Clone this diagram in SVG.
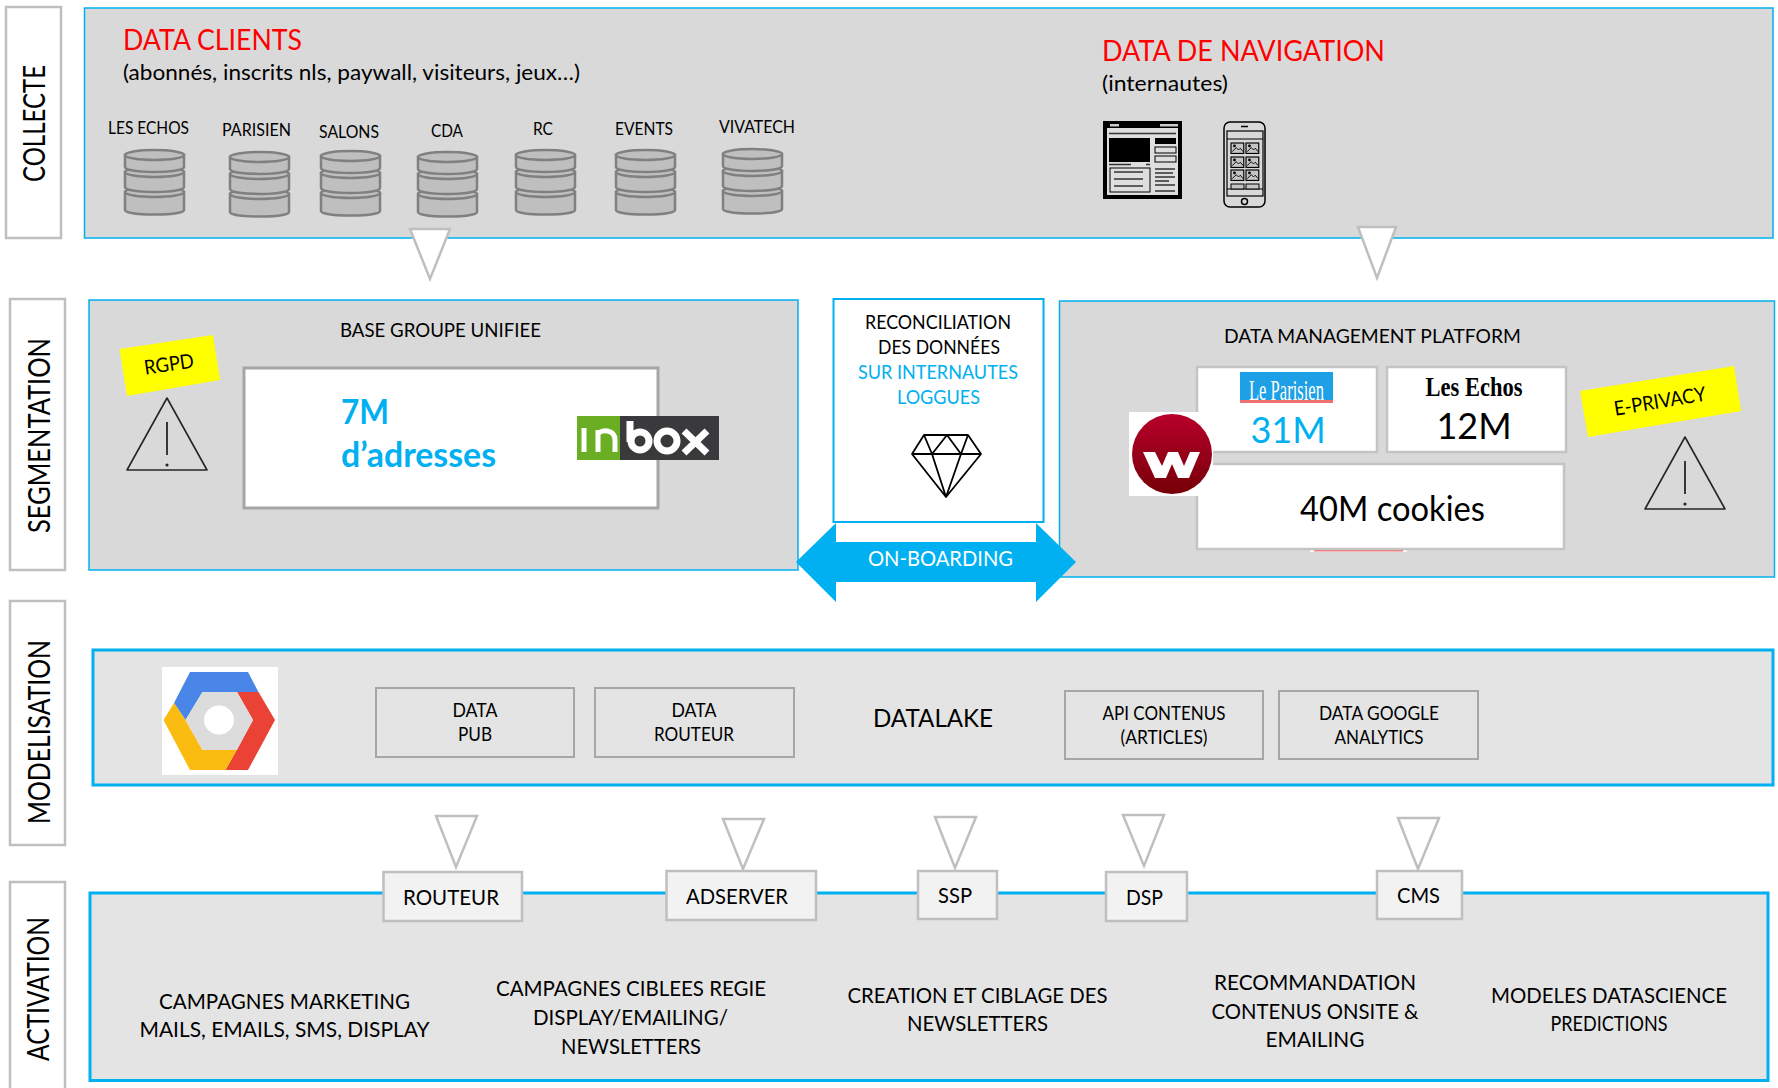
<svg xmlns="http://www.w3.org/2000/svg" width="1778" height="1088" viewBox="0 0 1778 1088">
<style>
text{font-family:Lato,"Liberation Sans",sans-serif;fill:#000}
.m{text-anchor:middle}
.side{fill:#fff;stroke:#bfbfbf;stroke-width:2.5}
.sl{font-size:30px}
.band{fill:#d9d9d9;stroke:#00b0f0;stroke-width:1.5}
.band2{fill:#e4e4e4;stroke:#00b0f0;stroke-width:3}
.tri{fill:#fff;stroke:#bfbfbf;stroke-width:2.5}
.db{font-size:17px}
.red{fill:#f00}
.blue{fill:#00b0f0}
.wb{fill:#fff;stroke:#c4c4c4;stroke-width:2.500}
.gb{fill:none;stroke:#a6a6a6;stroke-width:2}
.lb{fill:#f2f2f2;stroke:#bfbfbf;stroke-width:2.500}
.t19{font-size:19px}
.t20{font-size:20px}
.t22{font-size:22px}
.warn{fill:none;stroke:#262626;stroke-width:1.6;stroke-linejoin:round}
.sticky{fill:#ff0}
.k{fill:none;stroke:#000}
</style>
<defs>
<linearGradient id="wred" x1="0" y1="0" x2="0" y2="1"><stop offset="0" stop-color="#b8002a"/><stop offset="1" stop-color="#760008"/></linearGradient>
<g id="cyl" fill="#bfbfbf" stroke="#808080" stroke-width="2.5">
<path d="M1 43v18c0 6 59 6 59 0V43z"/><ellipse cx="30.500" cy="43" rx="29.500" ry="5"/>
<path d="M1 23v15c0 6.500 59 6.500 59 0V23z"/><ellipse cx="30.500" cy="23" rx="29.500" ry="5"/>
<path d="M1 6v12c0 6.500 59 6.500 59 0V6z"/><ellipse cx="30.500" cy="6" rx="29.500" ry="5"/>
</g>
<g id="warn">
<path class="warn" d="M0 -72L-40 0H40Z"/>
<path d="M0 -48V-15" stroke="#262626" stroke-width="1.8"/>
<circle cx="0" cy="-5" r="1.600" fill="#262626"/>
</g>
<g id="pic"><rect width="22" height="18" fill="#c4c4c4" stroke="#000" stroke-width="2"/><path d="M2 15l7-7 4 4 3-3 5 6" fill="none" stroke="#000" stroke-width="1.600"/><circle cx="6" cy="5" r="2.400"/></g>
</defs>

<g id="collecte">
<rect class="side" x="6" y="7" width="55" height="231"/>
<text class="sl" transform="translate(45 123.500) rotate(-90)" text-anchor="middle" textLength="117" lengthAdjust="spacingAndGlyphs">COLLECTE</text>
<rect class="band" x="84.500" y="8" width="1688.500" height="230"/>
<text class="red" x="123" y="50" font-size="29" textLength="179" lengthAdjust="spacingAndGlyphs">DATA CLIENTS</text>
<text class="t22" x="123" y="80" textLength="457" lengthAdjust="spacingAndGlyphs">(abonnés, inscrits nls, paywall, visiteurs, jeux…)</text>
<text class="red" x="1102" y="61" font-size="29" textLength="283" lengthAdjust="spacingAndGlyphs">DATA DE NAVIGATION</text>
<text class="t22" x="1102" y="91" textLength="126" lengthAdjust="spacingAndGlyphs">(internautes)</text>
<g id="db-lesechos"><text class="db" x="108" y="134" textLength="81" lengthAdjust="spacingAndGlyphs">LES ECHOS</text><use href="#cyl" x="124" y="149"/></g>
<g id="db-parisien"><text class="db" x="222" y="136" textLength="69" lengthAdjust="spacingAndGlyphs">PARISIEN</text><use href="#cyl" x="229" y="151"/></g>
<g id="db-salons"><text class="db" x="319" y="138" textLength="60" lengthAdjust="spacingAndGlyphs">SALONS</text><use href="#cyl" x="320" y="150"/></g>
<g id="db-cda"><text class="db" x="431" y="137" textLength="32" lengthAdjust="spacingAndGlyphs">CDA</text><use href="#cyl" x="417" y="151"/></g>
<g id="db-rc"><text class="db" x="533" y="135" textLength="20" lengthAdjust="spacingAndGlyphs">RC</text><use href="#cyl" x="515" y="149"/></g>
<g id="db-events"><text class="db" x="615" y="135" textLength="58" lengthAdjust="spacingAndGlyphs">EVENTS</text><use href="#cyl" x="615" y="149"/></g>
<g id="db-vivatech"><text class="db" x="719" y="133" textLength="76" lengthAdjust="spacingAndGlyphs">VIVATECH</text><use href="#cyl" x="722" y="148"/></g>
<g id="icon-web">
<rect x="1103" y="121" width="79" height="78" fill="#000"/>
<rect x="1107" y="128" width="71" height="67" fill="#dedede"/>
<rect x="1109" y="138" width="41" height="24" fill="#000"/>
<rect x="1155" y="138" width="21" height="6" fill="#000"/>
<rect x="1155" y="147" width="21" height="6" class="k" stroke-width="1"/>
<rect x="1155" y="156" width="21" height="6" class="k" stroke-width="1"/>
<rect x="1110" y="168" width="40" height="24" class="k" stroke-width="1"/>
<path d="M1109 133.500h67M1114 172h29M1114 179h29M1114 186h29M1155 169h20M1155 173h18M1155 177h20M1155 181h14M1155 185h20M1155 191h20M1109 164.500h22M1146 164.500h4" stroke="#333" stroke-width="1.500" fill="none"/>
<rect x="1110" y="124" width="9" height="2.500" fill="#ccc"/><rect x="1160" y="124" width="18" height="2.500" fill="#ccc"/>
</g>
<g id="icon-phone">
<rect x="1224" y="122" width="41" height="85" rx="6" fill="#d9d9d9" stroke="#000" stroke-width="1.500"/>
<rect x="1227" y="131" width="36" height="65" class="k" stroke-width="1.200"/>
<path d="M1227 139h36M1227 189h36" stroke="#000"/>
<use href="#pic" transform="translate(1231 143) scale(.58)"/><use href="#pic" transform="translate(1246 143) scale(.58)"/>
<use href="#pic" transform="translate(1231 157) scale(.58)"/><use href="#pic" transform="translate(1246 157) scale(.58)"/>
<use href="#pic" transform="translate(1231 170) scale(.58)"/><use href="#pic" transform="translate(1246 170) scale(.58)"/>
<rect x="1231" y="184" width="13" height="5" fill="#c4c4c4" stroke="#000"/><rect x="1246" y="184" width="13" height="5" fill="#c4c4c4" stroke="#000"/>
<path d="M1241 126.500h7" stroke="#000" stroke-width="1.500"/>
<circle cx="1244.500" cy="201.500" r="3" fill="none" stroke="#000" stroke-width="1.500"/>
</g>
</g>

<g id="connectors">
<polygon class="tri" points="410,229 450,229 430,279"/>
<polygon class="tri" points="1358,227 1396,227 1377,278"/>
<polygon class="tri" points="436,816 477,816 456,867"/>
<polygon class="tri" points="723,819 764,819 743,869"/>
<polygon class="tri" points="935,817 976,817 955,868"/>
<polygon class="tri" points="1123,815 1164,815 1144,866"/>
<polygon class="tri" points="1398,818 1439,818 1418,869"/>
</g>

<g id="segmentation">
<rect class="side" x="10" y="299" width="55" height="271"/>
<text class="sl" transform="translate(50 435.500) rotate(-90)" text-anchor="middle" textLength="195" lengthAdjust="spacingAndGlyphs">SEGMENTATION</text>
</g>
<g id="base-groupe">
<rect class="band" x="89" y="300" width="709" height="270"/>
<text class="t20" x="340" y="337" textLength="201" lengthAdjust="spacingAndGlyphs">BASE GROUPE UNIFIEE</text>
<polygon class="sticky" points="119.500,349 213,335 220,380 127,396"/>
<text class="t20 m" transform="translate(170 371) rotate(-8.500)" textLength="50" lengthAdjust="spacingAndGlyphs">RGPD</text>
<use href="#warn" x="167" y="470"/>
<rect x="244" y="368" width="414" height="140" fill="#fff" stroke="#a6a6a6" stroke-width="3"/>
<text class="blue" x="341" y="424" font-size="34" font-weight="700" textLength="48" lengthAdjust="spacingAndGlyphs">7M</text>
<text class="blue" x="341" y="467" font-size="34" font-weight="700" textLength="155" lengthAdjust="spacingAndGlyphs">d’adresses</text>
<g id="logo-inbox">
<rect x="577" y="416" width="43" height="44" fill="#6aaf23"/>
<rect x="620" y="416" width="99" height="44" fill="#3a3a3c"/>
<path d="M584 428v24M598 452v-22M598 434c3-5 17-5 17 6v12" fill="none" stroke="#fff" stroke-width="5"/>
<path d="M630 421v21" stroke="#fff" stroke-width="7"/>
<circle cx="640" cy="441" r="9" fill="none" stroke="#fff" stroke-width="7"/>
<circle cx="667" cy="441" r="10" fill="none" stroke="#fff" stroke-width="7"/>
<path d="M684 431l23 22M707 431l-23 22" stroke="#fff" stroke-width="7"/>
</g>
</g>
<g id="reconciliation">
<rect x="833.500" y="299" width="210" height="223" fill="#fff" stroke="#00b0f0" stroke-width="2"/>
<text class="t19" x="865" y="329" textLength="146" lengthAdjust="spacingAndGlyphs">RECONCILIATION</text>
<text class="t19" x="878" y="354" textLength="122" lengthAdjust="spacingAndGlyphs">DES DONNÉES</text>
<text class="t19 blue" x="858" y="379" textLength="160" lengthAdjust="spacingAndGlyphs">SUR INTERNAUTES</text>
<text class="t19 blue" x="897" y="404" textLength="83" lengthAdjust="spacingAndGlyphs">LOGGUES</text>
<path d="M924 435H968L981 454L946 497L912 454ZM912 454H981M924 435L932 454L947 435L961 454L968 435M932 454L946 497L961 454" fill="none" stroke="#000" stroke-width="1.800" stroke-linejoin="round"/>
</g>
<g id="dmp">
<rect class="band" x="1059.500" y="301" width="715" height="276"/>
<text class="t20" x="1224" y="343" textLength="297" lengthAdjust="spacingAndGlyphs">DATA MANAGEMENT PLATFORM</text>
<rect x="1310" y="546" width="97" height="6" fill="#fff"/><rect x="1314" y="549" width="89" height="2.500" fill="#f07070"/>
<rect class="wb" x="1197" y="367" width="180" height="85"/>
<rect x="1240" y="372" width="93" height="31" fill="#1ea0e6"/><rect x="1240" y="400" width="93" height="3" fill="#f07070"/>
<text x="1286.500" y="400" class="m" font-size="30" style="fill:#fff;font-family:'Liberation Serif',serif" textLength="75" lengthAdjust="spacingAndGlyphs">Le Parisien</text>
<text class="blue m" x="1288" y="443" font-size="36">31M</text>
<rect class="wb" x="1387" y="367" width="179" height="85"/>
<text x="1474" y="396" class="m" font-size="27" font-weight="700" style="font-family:'Liberation Serif',serif" textLength="97" lengthAdjust="spacingAndGlyphs">Les Echos</text>
<text class="m" x="1474" y="439" font-size="36">12M</text>
<rect class="wb" x="1197" y="464" width="367" height="85"/>
<text x="1300" y="521" font-size="34" textLength="185" lengthAdjust="spacingAndGlyphs">40M cookies</text>
<g id="logo-w">
<rect x="1129" y="412" width="84" height="84" fill="#fff"/>
<ellipse cx="1172" cy="454" rx="40" ry="40" fill="url(#wred)"/>
<polygon fill="#fff" points="1143,452 1155,452 1162,466 1168,452 1178,452 1184,466 1190,452 1200,452 1189,478 1178,478 1172,464 1166,478 1155,478"/>
</g>
<polygon class="sticky" points="1580,391 1734,366 1741,411 1588,437"/>
<text class="t20 m" transform="translate(1661 408) rotate(-9.500)" textLength="93" lengthAdjust="spacingAndGlyphs">E-PRIVACY</text>
<use href="#warn" x="1685" y="509"/>
</g>
<g id="onboarding">
<polygon fill="#00b0f0" points="796,562 836,523 836,542 1036,542 1036,523 1076,562 1036,602 1036,582 836,582 836,602"/>
<text x="868" y="566" font-size="22" style="fill:#fff" textLength="145" lengthAdjust="spacingAndGlyphs">ON-BOARDING</text>
</g>

<g id="modelisation">
<rect class="side" x="10" y="601" width="55" height="244"/>
<text class="sl" transform="translate(50 732) rotate(-90)" text-anchor="middle" textLength="184" lengthAdjust="spacingAndGlyphs">MODELISATION</text>
<rect class="band2" x="93" y="650" width="1680" height="135"/>
<g id="logo-gcp">
<rect x="162" y="667" width="116" height="108" fill="#fff"/>
<polygon fill="#4a86e8" points="190,672 248,672 258.500,692 202.500,692 185.500,720 174,703"/>
<polygon fill="#ea4335" points="237,692 258.500,692 275,720 248,770 225.500,770 253,720"/>
<polygon fill="#fbbc11" points="174,703 163.500,720 190,770 225.500,770 237,750 202.500,750 185.500,720"/>
<polygon fill="#dcdcdc" points="202.500,692 237,692 253,720 237,750 202.500,750 185.500,720"/>
<ellipse cx="219" cy="720" rx="15" ry="14.500" fill="#fff"/>
</g>
<g id="data-pub"><rect class="gb" x="376" y="688" width="198" height="69"/><text class="t19 m" x="475" y="717" textLength="45" lengthAdjust="spacingAndGlyphs">DATA</text><text class="t19 m" x="475" y="741" textLength="34" lengthAdjust="spacingAndGlyphs">PUB</text></g>
<g id="data-routeur"><rect class="gb" x="595" y="688" width="199" height="69"/><text class="t19 m" x="694" y="717" textLength="45" lengthAdjust="spacingAndGlyphs">DATA</text><text class="t19 m" x="694" y="741" textLength="80" lengthAdjust="spacingAndGlyphs">ROUTEUR</text></g>
<text class="m" x="933" y="727" font-size="25" textLength="120" lengthAdjust="spacingAndGlyphs">DATALAKE</text>
<g id="api"><rect class="gb" x="1065" y="691" width="198" height="68"/><text class="t19 m" x="1164" y="720" textLength="123" lengthAdjust="spacingAndGlyphs">API CONTENUS</text><text class="t19 m" x="1164" y="744" textLength="87" lengthAdjust="spacingAndGlyphs">(ARTICLES)</text></g>
<g id="ga"><rect class="gb" x="1279" y="691" width="199" height="68"/><text class="t19 m" x="1379" y="720" textLength="120" lengthAdjust="spacingAndGlyphs">DATA GOOGLE</text><text class="t19 m" x="1379" y="744" textLength="89" lengthAdjust="spacingAndGlyphs">ANALYTICS</text></g>
</g>

<g id="activation">
<rect class="side" x="10" y="882" width="55" height="210"/>
<text class="sl" transform="translate(49 989) rotate(-90)" text-anchor="middle" textLength="144" lengthAdjust="spacingAndGlyphs">ACTIVATION</text>
<rect class="band2" x="90" y="893" width="1678" height="187.500"/>
<g class="t22">
<text class="t22 m" x="284.500" y="1009" textLength="251" lengthAdjust="spacingAndGlyphs">CAMPAGNES MARKETING</text>
<text class="t22 m" x="284.500" y="1037" textLength="290" lengthAdjust="spacingAndGlyphs">MAILS, EMAILS, SMS, DISPLAY</text>
<text class="t22 m" x="631" y="996" textLength="270" lengthAdjust="spacingAndGlyphs">CAMPAGNES CIBLEES REGIE</text>
<text class="t22 m" x="630.500" y="1025" textLength="195" lengthAdjust="spacingAndGlyphs">DISPLAY/EMAILING/</text>
<text class="t22 m" x="631" y="1054" textLength="140" lengthAdjust="spacingAndGlyphs">NEWSLETTERS</text>
<text class="t22 m" x="977.500" y="1003" textLength="260" lengthAdjust="spacingAndGlyphs">CREATION ET CIBLAGE DES</text>
<text class="t22 m" x="977.500" y="1031" textLength="141" lengthAdjust="spacingAndGlyphs">NEWSLETTERS</text>
<text class="t22 m" x="1315" y="990" textLength="202" lengthAdjust="spacingAndGlyphs">RECOMMANDATION</text>
<text class="t22 m" x="1315" y="1019" textLength="207" lengthAdjust="spacingAndGlyphs">CONTENUS ONSITE &amp;</text>
<text class="t22 m" x="1315" y="1047" textLength="99" lengthAdjust="spacingAndGlyphs">EMAILING</text>
<text class="t22 m" x="1609" y="1003" textLength="236" lengthAdjust="spacingAndGlyphs">MODELES DATASCIENCE</text>
<text class="t22 m" x="1609" y="1031" textLength="117" lengthAdjust="spacingAndGlyphs">PREDICTIONS</text>
</g>
<g id="routeur"><rect class="lb" x="383.500" y="872" width="138.500" height="49"/><text class="t22" x="403" y="905" textLength="96" lengthAdjust="spacingAndGlyphs">ROUTEUR</text></g>
<g id="adserver"><rect class="lb" x="666.500" y="871" width="149.500" height="49"/><text class="t22" x="686" y="904" textLength="102" lengthAdjust="spacingAndGlyphs">ADSERVER</text></g>
<g id="ssp"><rect class="lb" x="918" y="871" width="79" height="48"/><text class="t22" x="938" y="903" textLength="34" lengthAdjust="spacingAndGlyphs">SSP</text></g>
<g id="dsp"><rect class="lb" x="1106" y="872" width="81" height="49"/><text class="t22" x="1126" y="905" textLength="37" lengthAdjust="spacingAndGlyphs">DSP</text></g>
<g id="cms"><rect class="lb" x="1377" y="871" width="85" height="48"/><text class="t22" x="1397" y="903" textLength="43" lengthAdjust="spacingAndGlyphs">CMS</text></g>
</g>
</svg>
